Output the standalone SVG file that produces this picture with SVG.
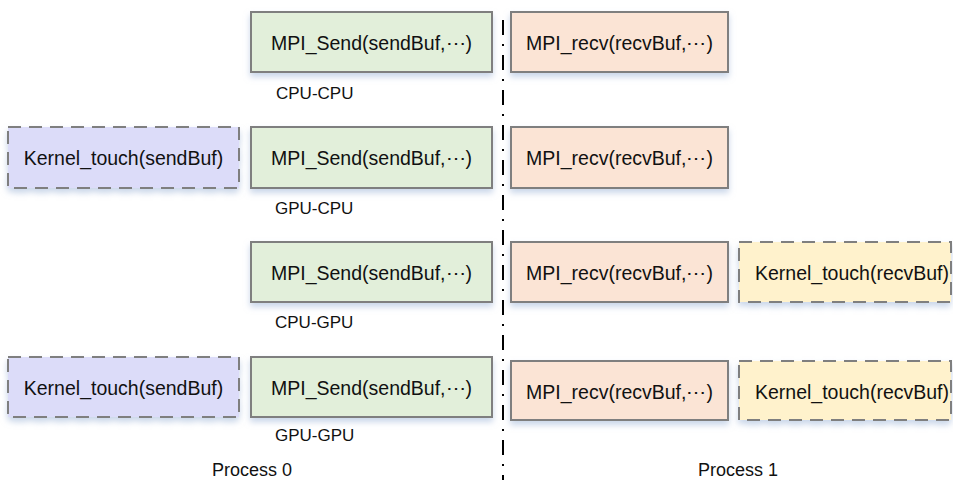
<svg xmlns="http://www.w3.org/2000/svg" width="953" height="480" viewBox="0 0 953 480">
  <defs>
    <filter id="shadow" x="-10%" y="-20%" width="120%" height="160%">
      <feDropShadow dx="0" dy="4" stdDeviation="3" flood-color="#9fb6d8" flood-opacity="0.55"/>
    </filter>
    <style>
      .box { stroke: #7f7f7f; stroke-width: 2; filter: url(#shadow); }
      .dash { stroke-dasharray: 13 8; }
      .send { fill: #e2efda; }
      .recv { fill: #fbe4d5; }
      .ksend { fill: #dcdcf9; }
      .krecv { fill: #fff2cc; }
      .t { font-family: "Liberation Sans", Arial, sans-serif; font-size: 19.5px; fill: #111; text-anchor: middle; }
      .lbl { font-family: "Liberation Sans", Arial, sans-serif; font-size: 17px; fill: #111; }
      .proc { font-family: "Liberation Sans", Arial, sans-serif; font-size: 18px; fill: #111; text-anchor: middle; }
    </style>
  </defs>

  <!-- process separator -->
  <g id="connectors">
    <line x1="503" y1="20" x2="503" y2="480" stroke="#000" stroke-width="2" stroke-dasharray="15 9 2 9"/>
  </g>

  <!-- row 1: CPU-CPU -->
  <g id="send1">
    <rect class="box send" x="251" y="12" width="241" height="60"/>
    <text class="t" x="371.5" y="50">MPI_Send(sendBuf,⋯)</text>
  </g>
  <g id="recv1">
    <rect class="box recv" x="511" y="12" width="217" height="60"/>
    <text class="t" x="619.5" y="50">MPI_recv(recvBuf,⋯)</text>
  </g>
  <text class="lbl" x="276" y="99">CPU-CPU</text>

  <!-- row 2: GPU-CPU -->
  <g id="ksend2">
    <rect class="box ksend dash" x="8" y="127" width="231" height="61"/>
    <text class="t" x="123.5" y="165">Kernel_touch(sendBuf)</text>
  </g>
  <g id="send2">
    <rect class="box send" x="251" y="127" width="241" height="61"/>
    <text class="t" x="371.5" y="165">MPI_Send(sendBuf,⋯)</text>
  </g>
  <g id="recv2">
    <rect class="box recv" x="511" y="127" width="217" height="61"/>
    <text class="t" x="619.5" y="165">MPI_recv(recvBuf,⋯)</text>
  </g>
  <text class="lbl" x="275" y="214">GPU-CPU</text>

  <!-- row 3: CPU-GPU -->
  <g id="send3">
    <rect class="box send" x="251" y="242" width="241" height="60"/>
    <text class="t" x="371.5" y="280">MPI_Send(sendBuf,⋯)</text>
  </g>
  <g id="recv3">
    <rect class="box recv" x="511" y="242" width="217" height="60"/>
    <text class="t" x="619.5" y="280">MPI_recv(recvBuf,⋯)</text>
  </g>
  <g id="krecv3">
    <rect class="box krecv dash" x="739" y="242" width="212" height="60"/>
    <text class="t" x="852" y="280">Kernel_touch(recvBuf)</text>
  </g>
  <text class="lbl" x="275" y="328">CPU-GPU</text>

  <!-- row 4: GPU-GPU -->
  <g id="ksend4">
    <rect class="box ksend dash" x="8" y="357" width="231" height="60"/>
    <text class="t" x="123.5" y="395">Kernel_touch(sendBuf)</text>
  </g>
  <g id="send4">
    <rect class="box send" x="251" y="357" width="241" height="60"/>
    <text class="t" x="371.5" y="395">MPI_Send(sendBuf,⋯)</text>
  </g>
  <g id="recv4">
    <rect class="box recv" x="511" y="361" width="217" height="59"/>
    <text class="t" x="619.5" y="399">MPI_recv(recvBuf,⋯)</text>
  </g>
  <g id="krecv4">
    <rect class="box krecv dash" x="739" y="361" width="212" height="59"/>
    <text class="t" x="852" y="399">Kernel_touch(recvBuf)</text>
  </g>
  <text class="lbl" x="275" y="441">GPU-GPU</text>

  <!-- process captions -->
  <text class="proc" x="252" y="476">Process 0</text>
  <text class="proc" x="738" y="476">Process 1</text>
</svg>
